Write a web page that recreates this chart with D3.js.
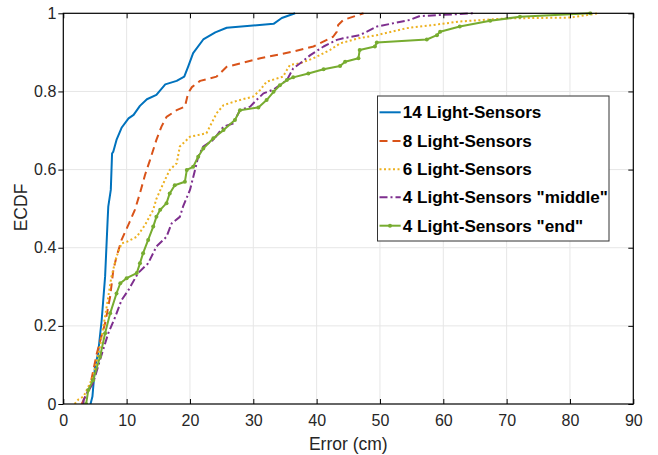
<!DOCTYPE html>
<html>
<head>
<meta charset="utf-8">
<script src="https://cdn.jsdelivr.net/npm/d3@7"></script>
<style>
  html, body { margin: 0; padding: 0; background: #fff; }
  svg { display: block; }
</style>
</head>
<body>
<svg id="chart" width="658" height="455"></svg>
<script>
// ---- Data (Error in cm, ECDF value) ----
const seriesNames = ["14 Light-Sensors", "8 Light-Sensors", "6 Light-Sensors",
                     "4 Light-Sensors \"middle\"", "4 Light-Sensors \"end\""];

const s14 = [
  [4.3,0],[4.6,0.019],[5.0,0.095],[5.5,0.13],[6.06,0.215],[6.6,0.326],[7.0,0.471],
  [7.1,0.505],[7.5,0.548],[7.7,0.641],[7.9,0.646],[8.4,0.676],[9.2,0.707],[10.3,0.731],
  [11.1,0.740],[12.1,0.763],[13.2,0.780],[14.7,0.791],[16.1,0.818],[17.9,0.827],
  [19.1,0.838],[19.7,0.863],[20.5,0.898],[22.1,0.933],[24.0,0.951],[25.8,0.963],
  [33.2,0.973],[34.5,0.988],[36.6,1]
];
const s8 = [
  [2.9,0],[3.2,0.01],[4.2,0.044],[5.3,0.13],[6.6,0.207],[7.4,0.275],[7.9,0.343],
  [8.4,0.377],[9.2,0.42],[10.5,0.467],[11.3,0.497],[12.1,0.539],[12.9,0.586],
  [13.7,0.625],[14.7,0.676],[15.5,0.710],[16.3,0.735],[17.9,0.752],[19.2,0.761],
  [19.7,0.795],[20.3,0.811],[21.6,0.827],[24.2,0.838],[25.8,0.863],[31.1,0.885],
  [36.3,0.902],[39.5,0.915],[42.6,0.94],[43.2,0.953],[43.4,0.97],[44.2,0.983],[47.4,1]
];
const s6 = [
  [1.8,0],[2.4,0.012],[3.2,0.019],[4.7,0.07],[5.8,0.147],[6.85,0.249],[7.6,0.326],
  [8.4,0.377],[9.2,0.411],[10.0,0.415],[11.6,0.428],[12.9,0.458],[14.2,0.497],
  [14.7,0.525],[15.8,0.565],[16.8,0.599],[17.9,0.616],[18.4,0.659],[20.0,0.684],
  [22.6,0.693],[24.2,0.744],[25.3,0.765],[27.4,0.776],[30.0,0.787],[31.1,0.804],
  [32.1,0.825],[34.7,0.838],[35.3,0.855],[35.8,0.868],[37.4,0.872],[39.5,0.885],
  [42.1,0.906],[43.7,0.923],[46.6,0.936],[49.5,0.944],[54.2,0.962],[58.4,0.97],
  [62.6,0.979],[70.0,0.987],[80.0,0.989],[84.5,1]
];
const s4m = [
  [3.2,0],[3.2,0.01],[3.7,0.027],[4.7,0.053],[5.8,0.113],[7.1,0.181],[8.2,0.223],
  [9.2,0.266],[10.3,0.292],[11.8,0.335],[13.4,0.360],[14.7,0.403],[16.3,0.428],
  [17.1,0.462],[18.4,0.479],[18.9,0.505],[20.0,0.548],[20.8,0.599],[21.3,0.633],
  [22.1,0.659],[23.7,0.676],[25.3,0.710],[26.8,0.718],[27.9,0.752],[29.5,0.761],
  [30.5,0.778],[31.6,0.795],[33.2,0.805],[34.2,0.816],[35.3,0.829],[36.3,0.859],
  [37.4,0.872],[39.0,0.893],[41.1,0.915],[43.2,0.932],[44.2,0.936],[46.8,0.944],
  [49.5,0.966],[54.7,0.983],[56.3,0.993],[60.0,0.996],[64.7,1]
];
const s4e = [
  [3.6,0],[3.95,0.036],[4.7,0.061],[5.8,0.121],[6.6,0.181],[7.4,0.232],[8.4,0.283],
  [9.0,0.309],[10.0,0.322],[11.6,0.335],[12.1,0.360],[12.6,0.386],[13.4,0.420],
  [14.2,0.454],[14.7,0.479],[15.3,0.497],[16.3,0.514],[16.8,0.539],[17.6,0.560],
  [19.2,0.569],[19.5,0.599],[20.5,0.607],[21.3,0.633],[22.1,0.654],[23.7,0.680],
  [25.3,0.701],[27.1,0.727],[27.9,0.752],[30.8,0.759],[32.1,0.778],[33.2,0.799],
  [34.2,0.816],[35.3,0.829],[36.3,0.836],[38.7,0.846],[41.1,0.857],[43.7,0.865],
  [44.5,0.876],[46.6,0.885],[46.8,0.906],[49.2,0.915],[49.5,0.925],[57.4,0.933],
  [59.0,0.944],[59.5,0.953],[62.6,0.966],[67.4,0.981],[72.1,0.991],[83.2,1]
];
const xTicks = [0,10,20,30,40,50,60,70,80,90];
const yTicks = [0,0.2,0.4,0.6,0.8,1];
const yTickLabels = ["0","0.2","0.4","0.6","0.8","1"];

const allSeries = [s14, s8, s6, s4m, s4e];
const colors = ["#0072BD","#D95319","#EDB120","#7E2F8E","#77AC30"];
const dashes = [null, "8,5", "2,2.5", "8,3,2,3", null];

// ---- Layout ----
const pLeft = 63.3, pRight = 633.3, pTop = 13.3, pBottom = 404;
const svg = d3.select("#chart");
const x = d3.scaleLinear().domain([0,90]).range([pLeft,pRight]);
const y = d3.scaleLinear().domain([0,1]).range([pBottom,pTop]);
const font = "'Liberation Sans', Arial, Helvetica, sans-serif";

// grid
const grid = svg.append("g");
grid.selectAll("line.gx").data(xTicks.slice(1,-1)).join("line")
  .attr("x1", d=>x(d)).attr("x2", d=>x(d)).attr("y1", pTop).attr("y2", pBottom)
  .attr("stroke", "#e6e6e6").attr("stroke-width", 1);
grid.selectAll("line.gy").data(yTicks.slice(1,-1)).join("line")
  .attr("x1", pLeft).attr("x2", pRight).attr("y1", d=>y(d)).attr("y2", d=>y(d))
  .attr("stroke", "#e6e6e6").attr("stroke-width", 1);

// lines
const clipId = "plotclip";
svg.append("clipPath").attr("id", clipId).append("rect")
  .attr("x", pLeft).attr("y", pTop-2).attr("width", pRight-pLeft).attr("height", pBottom-pTop+2);
const line = d3.line().x(d=>x(d[0])).y(d=>y(d[1]));
const plot = svg.append("g").attr("clip-path", `url(#${clipId})`);
allSeries.forEach((s,i) => {
  plot.append("path").datum(s).attr("d", line)
    .attr("fill", "none").attr("stroke", colors[i]).attr("stroke-width", 2)
    .attr("stroke-linejoin", "round")
    .attr("stroke-dasharray", dashes[i]);
});
// green markers
plot.selectAll("circle.m").data(s4e).join("circle")
  .attr("cx", d=>x(d[0])).attr("cy", d=>y(d[1])).attr("r", 2)
  .attr("fill", colors[4]);

// axes box
const axisColor = "#262626";
svg.append("rect").attr("x", pLeft).attr("y", pTop).attr("width", pRight-pLeft).attr("height", pBottom-pTop)
  .attr("fill", "none").attr("stroke", "#000").attr("stroke-width", 1.2);

// x axis
const xAxis = d3.axisBottom(x).tickValues(xTicks).tickSizeInner(-5).tickSizeOuter(0).tickPadding(11);
const gx = svg.append("g").attr("transform", `translate(0,${pBottom})`).call(xAxis);
gx.select(".domain").remove();
gx.selectAll("line").attr("stroke", "#000");
gx.selectAll("text").attr("font-family", font).attr("font-size", 16).attr("fill", axisColor);
// top ticks
const xTop = d3.axisTop(x).tickValues(xTicks).tickSizeInner(-5).tickSizeOuter(0).tickFormat("");
const gxt = svg.append("g").attr("transform", `translate(0,${pTop})`).call(xTop);
gxt.select(".domain").remove();
gxt.selectAll("line").attr("stroke", "#000");

// y axis
const yAxis = d3.axisLeft(y).tickValues(yTicks).tickSizeInner(5).tickSizeOuter(0).tickPadding(2)
  .tickFormat((d,i)=>yTickLabels[i]);
const gy = svg.append("g").attr("transform", `translate(${pLeft},0)`).call(yAxis);
gy.select(".domain").remove();
gy.selectAll("line").attr("stroke", "#000");
gy.selectAll("text").attr("font-family", font).attr("font-size", 16).attr("fill", axisColor);
// right ticks
const yRight = d3.axisRight(y).tickValues(yTicks).tickSizeInner(-5).tickSizeOuter(0).tickFormat("");
const gyr = svg.append("g").attr("transform", `translate(${pRight},0)`).call(yRight);
gyr.select(".domain").remove();
gyr.selectAll("line").attr("stroke", "#000");

// axis labels
svg.append("text").attr("x", 348.3).attr("y", 450).attr("text-anchor", "middle")
  .attr("font-family", font).attr("font-size", 17.5).attr("fill", axisColor).text("Error (cm)");
svg.append("text").attr("transform", "translate(27,207.5) rotate(-90)").attr("text-anchor", "middle")
  .attr("font-family", font).attr("font-size", 17.5).attr("fill", axisColor).text("ECDF");

// legend
const lg = svg.append("g");
lg.append("rect").attr("x", 377.5).attr("y", 96).attr("width", 231.5).attr("height", 145)
  .attr("fill", "#fff").attr("stroke", "#333").attr("stroke-width", 1);
const rowY = [112.3, 141, 169.3, 197.3, 225.7];
seriesNames.forEach((name,i) => {
  lg.append("line").attr("x1", 379.5).attr("x2", 400.7).attr("y1", rowY[i]).attr("y2", rowY[i])
    .attr("stroke", colors[i]).attr("stroke-width", 2).attr("stroke-dasharray", dashes[i]);
  if (i === 4) {
    lg.append("circle").attr("cx", 390).attr("cy", rowY[i]).attr("r", 2).attr("fill", colors[i]);
  }
  lg.append("text").attr("x", 402.7).attr("y", rowY[i]).attr("dy", "0.36em")
    .attr("font-family", font).attr("font-size", 17.1).attr("font-weight", "bold")
    .attr("fill", "#000").text(name);
});
</script>
</body>
</html>
